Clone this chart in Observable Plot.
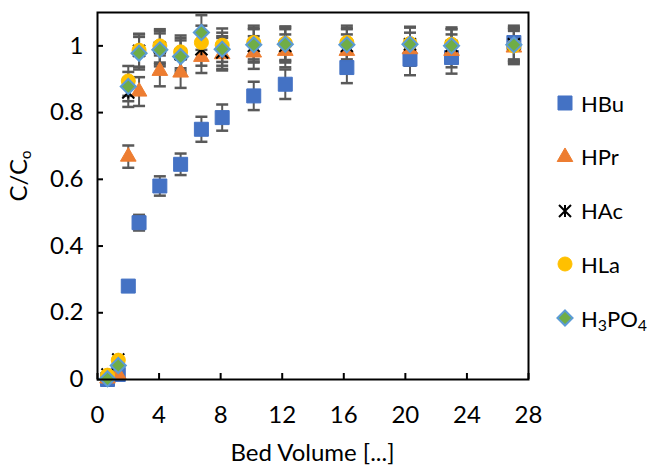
<!DOCTYPE html>
<html><head><meta charset="utf-8">
<script src="https://cdn.jsdelivr.net/npm/d3@7"></script>
<script src="https://cdn.jsdelivr.net/npm/@observablehq/plot@0.6"></script>
<style>
body{margin:0;background:#fff;font-family:Lato,sans-serif;}
#wrap{position:relative;width:648px;height:466px;}
#legend{position:absolute;left:0;top:0;width:648px;height:466px;pointer-events:none;}
.item{position:absolute;left:555px;height:30px;display:flex;align-items:center;font-size:22px;color:#000;white-space:nowrap;}
.item svg{margin-right:6px;}
.item sub{font-size:0.72em;vertical-align:-0.25em;line-height:0;}
</style></head><body><div id="wrap"><div id="legend"></div></div>
<script>
// ---- data ----
const bedVolume = [0.65, 1.35, 2.0, 2.7, 4.05, 5.4, 6.75, 8.1, 10.15, 12.2, 16.2, 20.3, 23.0, 27.05];
const HBu   = [0.0,   0.015, 0.28,  0.47,  0.58,  0.645, 0.75,  0.785, 0.85,  0.885, 0.935, 0.96,  0.965, 1.01];
const HPr   = [0.003, 0.015, 0.668, 0.863, 0.925, 0.92,  0.967, 0.975, 0.98,  0.985, 0.985, 0.99,  0.985, 0.995];
const HAc   = [0.015, 0.06,  0.86,  0.985, 0.995, 0.975, 0.99,  0.98,  1.0,   1.0,   1.0,   1.005, 1.0,   1.005];
const HLa   = [0.013, 0.058, 0.895, 0.987, 1.0,   0.982, 1.01,  1.002, 1.01,  1.008, 1.01,  1.007, 1.005, 1.0];
const H3PO4 = [0.002, 0.042, 0.878, 0.978, 0.988, 0.968, 1.04,  0.99,  1.003, 1.005, 1.003, 1.005, 1.0,   1.003];
const seriesNames = ["HBu", "HPr", "HAc", "HLa", "H3PO4"];
const seriesValues = [HBu, HPr, HAc, HLa, H3PO4];
const errorPercent = 0.05; // percentage error bars
const xTicks = [0, 4, 8, 12, 16, 20, 24, 28];
const yTicks = [0, 0.2, 0.4, 0.6, 0.8, 1];
const xLabel = "Bed Volume [...]";

// ---- build table ----
const rows = seriesNames.flatMap((name, i) =>
  bedVolume.map((x, j) => ({series: name, x, y: seriesValues[i][j]})));
const rowsOf = name => rows.filter(d => d.series === name);

// ---- symbols ----
const capSymbol = {draw(ctx, size) { const r = Math.sqrt(size / Math.PI); ctx.moveTo(-r, 0); ctx.lineTo(r, 0); }};
const starSymbol = {draw(ctx, size) {
  const r = Math.sqrt(size / Math.PI);
  ctx.moveTo(-r, -r); ctx.lineTo(r, r);
  ctx.moveTo(-r, r); ctx.lineTo(r, -r);
  ctx.moveTo(0, -r); ctx.lineTo(0, r);
}};
const styles = {
  HBu:   {symbol: "square",   r: 7.9, fill: "#4472C4", stroke: "#4472C4", strokeWidth: 1},
  HPr:   {symbol: "triangle", r: 5.8, fill: "#ED7D31", stroke: "#ED7D31", strokeWidth: 1},
  HAc:   {symbol: starSymbol, r: 6,   fill: "none",    stroke: "#000",    strokeWidth: 2},
  HLa:   {symbol: "circle",   r: 7,   fill: "#FFC000", stroke: "#FFC000", strokeWidth: 1},
  H3PO4: {symbol: "diamond2", r: 6.8, fill: "#70AD47", stroke: "#5B9BD5", strokeWidth: 2}
};

const W = 648, H = 466, mL = 97, mR = 120, mT = 12, mB = 87;
const innerW = W - mL - mR, innerH = H - mT - mB;
const errColor = "#595959";

const plot = Plot.plot({
  width: W, height: H,
  marginLeft: mL, marginRight: mR, marginTop: mT, marginBottom: mB,
  style: {fontFamily: "Lato, sans-serif", fontSize: "24px", color: "#000", background: "#fff"},
  x: {domain: [0, 28], ticks: xTicks, tickSize: 0, tickPadding: 26, label: null},
  y: {domain: [0, 1.1], ticks: yTicks, tickSize: 0, tickPadding: 14, label: null, tickFormat: d => String(d)},
  marks: [
    // inward tick marks
    Plot.ruleX(xTicks, {x: d => d, stroke: "#000", strokeWidth: 2, insetTop: innerH - 6}),
    Plot.ruleY(yTicks, {y: d => d, stroke: "#000", strokeWidth: 2, insetRight: innerW - 6}),
    // error bars
    Plot.ruleX(rows, {x: "x", y1: d => d.y * (1 - errorPercent), y2: d => d.y * (1 + errorPercent), stroke: errColor, strokeWidth: 2}),
    Plot.dot(rows, {x: "x", y: d => d.y * (1 + errorPercent), symbol: capSymbol, r: 6, fill: "none", stroke: errColor, strokeWidth: 2.5}),
    Plot.dot(rows, {x: "x", y: d => d.y * (1 - errorPercent), symbol: capSymbol, r: 6, fill: "none", stroke: errColor, strokeWidth: 2.5}),
    // markers
    ...seriesNames.map(name => Plot.dot(rowsOf(name), {x: "x", y: "y", ...styles[name]})),
    Plot.frame({stroke: "#000", strokeWidth: 2})
  ]
});
document.getElementById("wrap").prepend(plot);

// axis titles
const svg = d3.select(plot);
svg.append("text")
  .attr("x", mL + innerW / 2).attr("y", 461)
  .attr("text-anchor", "middle").attr("font-size", 24).attr("fill", "#000")
  .text(xLabel);
const yl = svg.append("text")
  .attr("transform", `translate(27,${176}) rotate(-90)`)
  .attr("text-anchor", "middle").attr("font-size", 24).attr("fill", "#000");
yl.append("tspan").text("C/C");
yl.append("tspan").attr("font-size", 15).attr("dy", 4).text("o");

// legend
const legend = d3.select("#legend");
seriesNames.forEach((name, i) => {
  const cy = 103 + i * 53.8;
  const item = legend.append("div").attr("class", "item").style("top", (cy - 15) + "px");
  const s = styles[name];
  const sym = typeof s.symbol === "string" ? {square: d3.symbolSquare, triangle: d3.symbolTriangle, circle: d3.symbolCircle, diamond2: d3.symbolDiamond2}[s.symbol] : s.symbol;
  const sv = item.append("svg").attr("width", 20).attr("height", 20);
  sv.append("path")
    .attr("transform", "translate(10,10)")
    .attr("d", d3.symbol(sym, s.r * s.r * Math.PI)())
    .attr("fill", s.fill).attr("stroke", s.stroke).attr("stroke-width", s.strokeWidth);
  item.append("span").html(name.replace(/(\d)/g, "<sub>$1</sub>"));
});
</script>
</body></html>
